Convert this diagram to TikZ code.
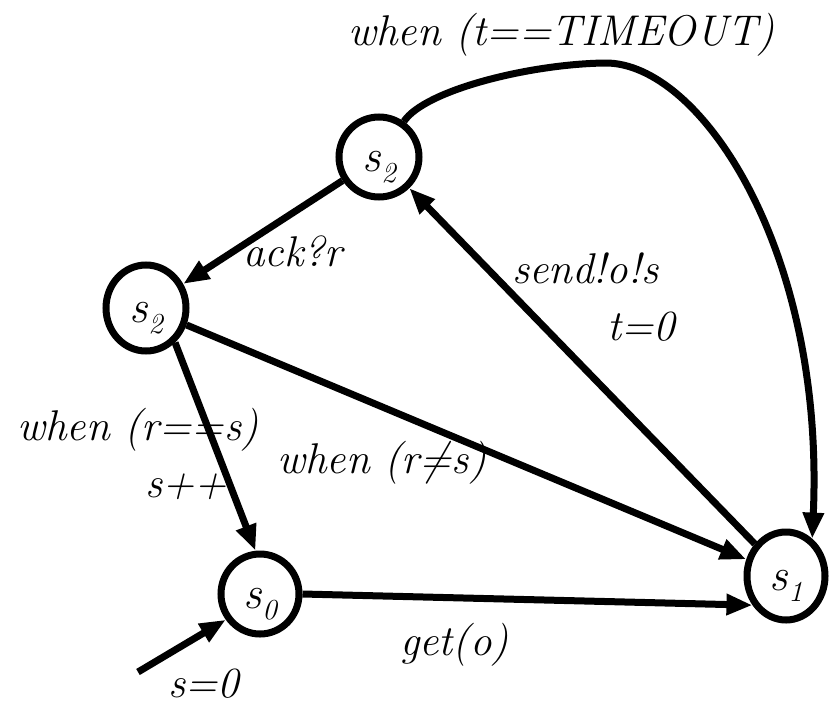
\documentclass[tikz,border=0pt]{standalone}
\usepackage{fontspec}
\usetikzlibrary{arrows.meta,shapes.geometric}
\newcommand\stname[1]{s\kern1pt\raisebox{-11pt}{\fontsize{29}{29}\selectfont #1}}
\newcommand\notequal{\ooalign{=\cr\hidewidth/\hidewidth\cr}}
\begin{document}
\begin{tikzpicture}[x=1pt,y=-1pt,
  state/.style={ellipse, draw, line width=7pt, inner sep=0pt, text height=38pt, text depth=10pt,
    font=\fontsize{46}{46}\selectfont\itshape},
  edge/.style={line width=7pt, -{Triangle[length=26pt,width=20pt]}},
  lab/.style={anchor=base west, inner sep=0pt, font=\fontsize{43}{43}\selectfont\itshape}]
\useasboundingbox (0,0) rectangle (830,707);
\node[state, minimum width=80pt, minimum height=80pt] (T) at (379,157) {\stname{2}};
\node[state, minimum width=80pt, minimum height=86pt] (L) at (146,308) {\stname{2}};
\node[state, minimum width=78pt, minimum height=80pt] (S0) at (260,594) {\stname{0}};
\node[state, minimum width=78pt, minimum height=88pt] (S1) at (786,576) {\stname{1}};
\draw[edge] (T) -- (L);
\draw[edge] (S1) -- (T);
\draw[edge] (L) -- (S1);
\draw[edge] (L.-50) -- (S0.96);
\draw[edge] (S0.east) -- (S1.221);
\draw[edge] (T.55) .. controls (425,90) and (530,64) .. (605,63) .. controls (700,62) and (825,250) .. (S1.55);
\coordinate (init) at (138,672);
\draw[edge] (init) -- (S0.217);
\node[lab] (lt) at (348,45) {when (t==TIMEOUT)};
\node[lab] (la) at (243,266) {ack?r};
\node[lab] (ls) at (512,283) {send!o!s};
\node[lab] (lt0) at (607,340) {t=0};
\node[lab] (lrs) at (17,440) {when (r==s)};
\node[lab] (lpp) at (145,497) {s++};
\node[lab] (lne) at (277,473) {when (r\notequal s)};
\node[lab] (lg) at (400,655) {get(o)};
\node[lab] (l0) at (168,697) {s=0};
\end{tikzpicture}
\end{document}
